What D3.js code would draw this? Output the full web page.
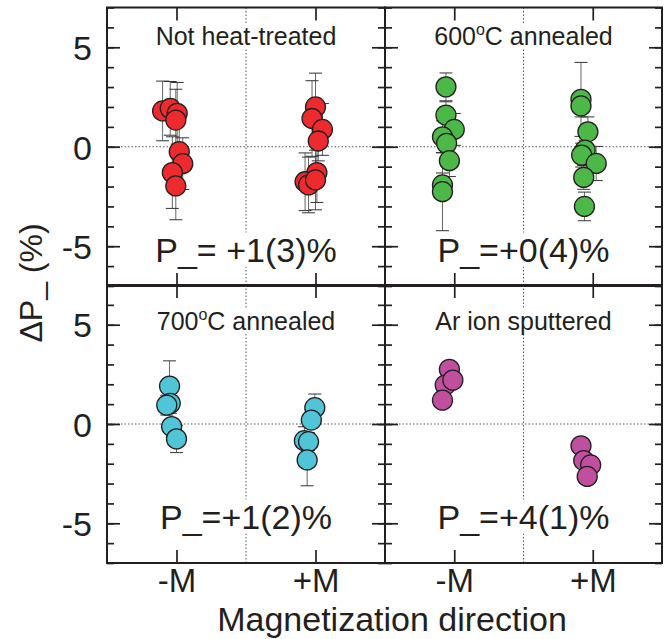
<!DOCTYPE html>
<html>
<head>
<meta charset="utf-8">
<script src="https://cdn.jsdelivr.net/npm/d3@7"></script>
<style>
  body { margin: 0; background: #fff; }
  svg { display: block; font-family: "Liberation Sans", Arial, Helvetica, sans-serif; }
</style>
</head>
<body>
<svg id="chart" width="667" height="639"></svg>
<script>
// x categories and y ticks
const directions = ['-M', '+M'];
const directionPos = [-1, 1];
const yMajor = [-5, 0, 5];
const yMinor = d3.range(-7, 8);

// each point: [offset from the direction, dP (%), error]
const notHeatMinus = [
  [-0.20, 1.80, 1.50], [-0.09, 1.93, 1.35], [0.01, 1.68, 1.55], [-0.01, 1.34, 1.55],
  [0.04, -0.25, 1.60], [0.09, -0.85, 1.30], [-0.06, -1.30, 1.80], [-0.01, -1.97, 1.70],
];
const notHeatPlus = [
  [0.00, 2.00, 1.70], [-0.05, 1.42, 1.90], [0.10, 0.87, 1.30], [0.04, 0.29, 1.00],
  [0.02, -1.30, 1.50], [-0.15, -1.76, 1.45], [-0.10, -1.92, 1.40], [0.00, -1.67, 1.50],
];
const ann600Minus = [
  [-0.12, 3.01, 0.70], [-0.12, 1.59, 0.67], [0.00, 0.87, 0.80], [-0.17, 0.50, 0.80],
  [-0.11, 0.17, 0.47], [-0.07, -0.70, 0.80], [-0.17, -1.92, 0.60], [-0.17, -2.26, 1.96],
];
const ann600Plus = [
  [-0.17, 2.38, 1.86], [-0.17, 2.05, 0.55], [-0.07, 0.75, 0.75], [-0.11, -0.17, 0.50],
  [-0.16, -0.42, 0.60], [0.05, -0.84, 0.86], [-0.13, -1.54, 0.60], [-0.12, -3.00, 0.72],
];
const ann700Minus = [
  [-0.10, 1.91, 1.27], [-0.09, 1.04, 0.50], [-0.14, 0.95, 0.50], [-0.07, -0.13, 0.40], [0.00, -0.75, 0.69],
];
const ann700Plus = [
  [-0.01, 0.82, 0.69], [-0.06, 0.20, 0.40], [-0.16, -0.84, 0.70], [-0.10, -0.89, 0.45], [-0.12, -1.81, 1.30],
];
const arMinus = [
  [-0.07, 2.75, 0.30], [-0.13, 1.96, 0.30], [-0.02, 2.21, 0.30], [-0.17, 1.20, 0.30],
];
const arPlus = [
  [-0.17, -1.10, 0.30], [-0.13, -1.84, 0.30], [-0.03, -2.06, 0.30], [-0.08, -2.64, 0.30],
];

const titles = ['Not heat-treated', '600|C annealed', '700|C annealed', 'Ar ion sputtered'];
const results = ['P_= +1(3)%', 'P_=+0(4)%', 'P_=+1(2)%', 'P_=+4(1)%'];
const colors = ['#ed2a2e', '#4cb848', '#4fc5d7', '#c0509f'];
const series = [
  [notHeatMinus, notHeatPlus], [ann600Minus, ann600Plus],
  [ann700Minus, ann700Plus], [arMinus, arPlus],
];

const INK = '#231f20';
const cols = [[107, 385], [385, 662]];
const rows = [[7.5, 286], [285, 563]];
const titleDy = [37.5, 45];
const resultDy = [254, 243.5];

const svg = d3.select('#chart');

function backdrop(g, text) {
  const b = text.node().getBBox();
  g.insert('rect', () => text.node())
    .attr('x', b.x - 2).attr('y', b.y + 2)
    .attr('width', b.width + 4).attr('height', b.height - 4)
    .attr('fill', '#fff');
}

series.forEach((pair, i) => {
  const [x0, x1] = cols[i % 2];
  const [y0, y1] = rows[Math.floor(i / 2)];
  const x = d3.scaleLinear().domain([-2, 2]).range([x0, x1]);
  const y = d3.scaleLinear().domain([-7, 7]).range([y1, y0]);
  const g = svg.append('g');

  // dotted zero lines
  g.append('line')
    .attr('x1', x0).attr('x2', x1).attr('y1', y(0)).attr('y2', y(0))
    .attr('stroke', '#555').attr('stroke-width', 1).attr('stroke-dasharray', '1.5 2');
  g.append('line')
    .attr('x1', x(0)).attr('x2', x(0)).attr('y1', y0).attr('y2', y1)
    .attr('stroke', '#555').attr('stroke-width', 1).attr('stroke-dasharray', '1.5 2');

  // labels with white backing
  const row = Math.floor(i / 2);
  const [pre, post] = titles[i].split('|');
  const t = g.append('text')
    .attr('x', x(0)).attr('y', y0 + titleDy[row])
    .attr('text-anchor', 'middle').attr('font-size', 25).attr('fill', INK);
  t.append('tspan').text(pre);
  if (post !== undefined) {
    t.append('tspan').attr('font-size', 16).attr('dy', -10).text('o');
    t.append('tspan').attr('dy', 10).text(post);
  }
  backdrop(g, t);

  const r = g.append('text')
    .attr('x', x(0)).attr('y', y0 + resultDy[row])
    .attr('text-anchor', 'middle').attr('font-size', 34).attr('fill', INK)
    .text(results[i]);
  backdrop(g, r);

  // error bars then circles
  pair.forEach((pts, k) => {
    const cx = d => x(directionPos[k] + d[0]);
    const bars = g.append('g').attr('stroke', '#333').attr('stroke-width', 1);
    bars.selectAll('.stem').data(pts).join('line').attr('class', 'stem')
      .attr('x1', cx).attr('x2', cx)
      .attr('y1', d => y(d[1] + d[2])).attr('y2', d => y(d[1] - d[2]))
      .attr('stroke', '#666');
    bars.selectAll('.capt').data(pts).join('line').attr('class', 'capt')
      .attr('x1', d => cx(d) - 6.5).attr('x2', d => cx(d) + 6.5)
      .attr('y1', d => y(d[1] + d[2])).attr('y2', d => y(d[1] + d[2]));
    bars.selectAll('.capb').data(pts).join('line').attr('class', 'capb')
      .attr('x1', d => cx(d) - 6.5).attr('x2', d => cx(d) + 6.5)
      .attr('y1', d => y(d[1] - d[2])).attr('y2', d => y(d[1] - d[2]));
  });
  pair.forEach((pts, k) => {
    g.selectAll(null).data(pts).join('circle')
      .attr('cx', d => x(directionPos[k] + d[0]))
      .attr('cy', d => y(d[1]))
      .attr('r', 10)
      .attr('fill', colors[i]).attr('stroke', INK).attr('stroke-width', 1.3);
  });

  // inward ticks on every side
  const tickStyle = s => s.call(a => a.select('.domain').remove())
    .call(a => a.selectAll('line').attr('stroke', INK).attr('stroke-width', 1.7))
    .call(a => a.selectAll('text').remove());
  [[d3.axisLeft, x0], [d3.axisRight, x1]].forEach(([ax, px]) => {
    g.append('g').attr('transform', `translate(${px},0)`)
      .call(ax(y).tickValues(yMinor).tickSize(-7)).call(tickStyle);
    g.append('g').attr('transform', `translate(${px},0)`)
      .call(ax(y).tickValues(yMajor).tickSize(-13)).call(tickStyle);
  });
  [[d3.axisTop, y0], [d3.axisBottom, y1]].forEach(([ax, py]) => {
    g.append('g').attr('transform', `translate(0,${py})`)
      .call(ax(x).tickValues(directionPos).tickSize(-13)).call(tickStyle);
  });

  g.append('rect')
    .attr('x', x0).attr('y', y0).attr('width', x1 - x0).attr('height', y1 - y0)
    .attr('fill', 'none').attr('stroke', INK).attr('stroke-width', 2);

  // tick labels on outer edges
  if (i % 2 === 0) {
    g.append('g').attr('transform', `translate(${x0},0)`)
      .call(d3.axisLeft(y).tickValues(yMajor).tickSize(0).tickPadding(15).tickFormat(d => String(d)))
      .call(a => a.select('.domain').remove())
      .call(a => a.selectAll('text').attr('font-size', 34).attr('fill', INK)
        .attr('font-family', 'inherit').attr('dy', '0.36em'));
  }
  if (row === 1) {
    g.append('g').attr('transform', `translate(0,${y1})`)
      .call(d3.axisBottom(x).tickValues(directionPos).tickSize(0).tickPadding(6)
        .tickFormat((d, j) => directions[j]))
      .call(a => a.select('.domain').remove())
      .call(a => a.selectAll('text').attr('font-size', 33).attr('fill', INK)
        .attr('font-family', 'inherit').attr('dy', '0.71em'));
  }
});

svg.append('text')
  .attr('x', 392).attr('y', 631)
  .attr('text-anchor', 'middle').attr('font-size', 34).attr('fill', INK)
  .text('Magnetization direction');

svg.append('text')
  .attr('transform', 'translate(42,283) rotate(-90)')
  .attr('text-anchor', 'middle').attr('font-size', 32).attr('fill', INK)
  .text('ΔP_ (%)');
</script>
</body>
</html>
